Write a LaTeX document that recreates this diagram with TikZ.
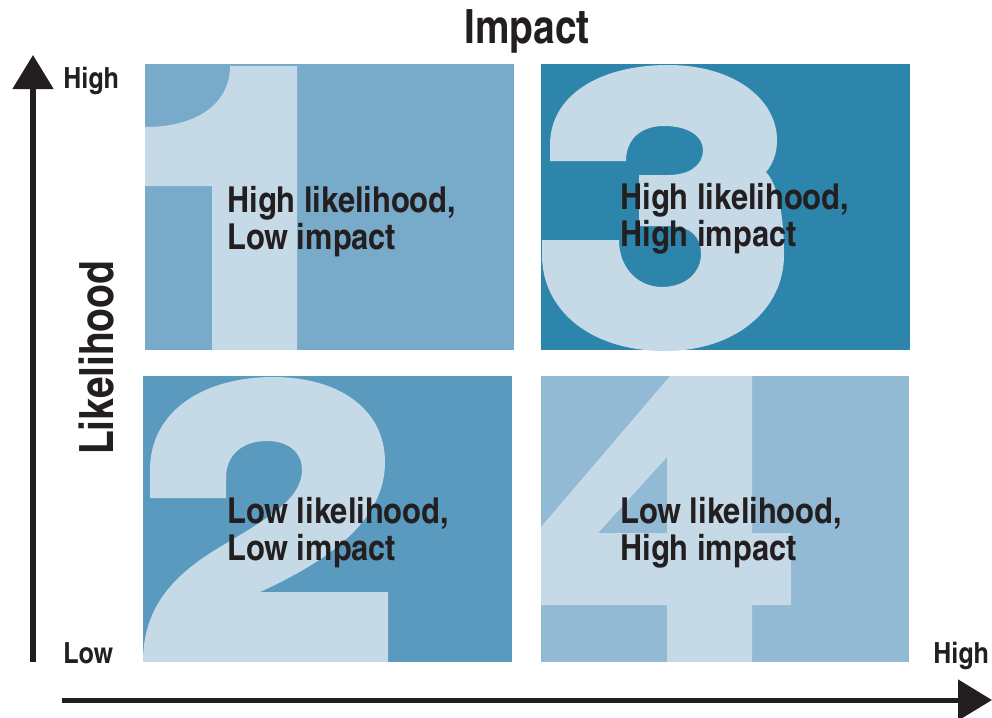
\documentclass[tikz,border=0pt]{standalone}
\usepackage{fontspec}
\setmainfont{texgyreheroscn}[Extension=.otf, UprightFont=*-regular, BoldFont=*-bold, FakeStretch=1.05]
\newfontfamily\headfont{texgyreheroscn}[Extension=.otf, UprightFont=*-bold]
\usetikzlibrary{arrows.meta}

\definecolor{hilo}{HTML}{78AAC9}
\definecolor{hihi}{HTML}{2E85AB}
\definecolor{lolo}{HTML}{5A9ABF}
\definecolor{lohi}{HTML}{93BAD4}
\definecolor{digit}{HTML}{C5D9E7}
\definecolor{ink}{HTML}{231F20}

\begin{document}
\begin{tikzpicture}[x=0.025cm, y=-0.025cm,
		axis/.style={draw=ink, line width=3.56pt, -{Triangle[length=0.85cm, width=1cm]}},
		numeral/.style={fill=digit},
		cell/.style={anchor=base west, inner sep=0pt, align=left, text=ink,
			font=\bfseries\fontsize{25.4}{26.3}\selectfont},
		tick/.style={anchor=base west, inner sep=0pt, text=ink,
			font=\bfseries\fontsize{20.7}{22}\selectfont},
		title/.style={anchor=base, inner sep=0pt, text=ink,
			font=\headfont\fontsize{33.6}{36}\selectfont}]
		\useasboundingbox (0, 0) rectangle (992, 717);
		
		% the four boxes
		\fill[hilo] (145, 64) rectangle (514, 350);
		\fill[hihi] (541, 64) rectangle (910, 350);
		\fill[lolo] (143, 376) rectangle (512, 662);
		\fill[lohi] (541, 376) rectangle (909, 662);
		
		% big numbers behind the text
		\fill[numeral] (145, 127) .. controls (198, 127) and (230, 103) .. (230, 66)
			-- (297, 66) -- (297, 350) -- (212, 350) -- (212, 186) -- (145, 186) -- cycle;
		\fill[numeral] (150, 498) -- (150, 470) .. controls (150, 410) and (205, 377) .. (273, 377)
			.. controls (340, 377) and (385, 410) .. (385, 462)
			.. controls (385, 520) and (330, 560) .. (260, 592)
			-- (388, 592) -- (388, 662) -- (143, 662)
			.. controls (143, 610) and (170, 578) .. (215, 550)
			.. controls (265, 520) and (302, 500) .. (302, 470)
			.. controls (302, 452) and (288, 441) .. (267, 441)
			.. controls (242, 441) and (226, 455) .. (226, 478) -- (226, 498) -- cycle;
		\fill[numeral] (550, 161) -- (550, 145) .. controls (550, 95) and (600, 65) .. (668, 65)
			.. controls (735, 65) and (777, 100) .. (777, 140)
			.. controls (777, 155) and (772, 165) .. (766, 172)
			.. controls (778, 185) and (784, 215) .. (784, 255)
			.. controls (784, 310) and (735, 351) .. (665, 351)
			.. controls (590, 351) and (542, 310) .. (542, 255) -- (542, 240) -- (619, 240)
			.. controls (619, 268) and (638, 287) .. (662, 287)
			.. controls (686, 287) and (701, 272) .. (701, 254)
			.. controls (701, 236) and (690, 226) .. (668, 226) -- (639, 226) -- (639, 175) -- (668, 175)
			.. controls (690, 175) and (703, 165) .. (703, 150)
			.. controls (703, 136) and (688, 126) .. (664, 126)
			.. controls (640, 126) and (626, 140) .. (626, 161) -- cycle;
		\fill[numeral, even odd rule] (670, 376) -- (752, 376) -- (752, 533) -- (791, 533)
			-- (791, 605) -- (752, 605) -- (752, 662) -- (667, 662) -- (667, 605) -- (541, 605)
			-- (541, 527) -- cycle
			(667, 457) -- (667, 533) -- (598, 533) -- cycle;
		
		% anchored on the baseline of the second line
		\node[cell] (hl) at (227, 249) {High likelihood,\\Low impact};
		\node[cell] (hh) at (620, 246) {High likelihood,\\High impact};
		\node[cell] (ll) at (227, 560) {Low likelihood,\\Low impact};
		\node[cell] (lh) at (620, 560) {Low likelihood,\\High impact};
		
		% axes
		\coordinate (origin) at (33, 662);
		\coordinate (ytop) at (33, 55);
		\coordinate (xstart) at (62, 700);
		\coordinate (xend) at (992, 700);
		\draw[axis] (origin) -- (ytop);
		\draw[axis] (xstart) -- (xend);
		
		\node[tick] (yhigh) at (63, 88) {High};
		\node[tick] (low) at (63, 663) {Low};
		\node[tick] (xhigh) at (933, 663) {High};
		\node[title] (impact) at (527, 43) {Impact};
		\node[title, rotate=90] (likelihood) at (113, 358) {Likelihood};
	\end{tikzpicture}
\end{document}
